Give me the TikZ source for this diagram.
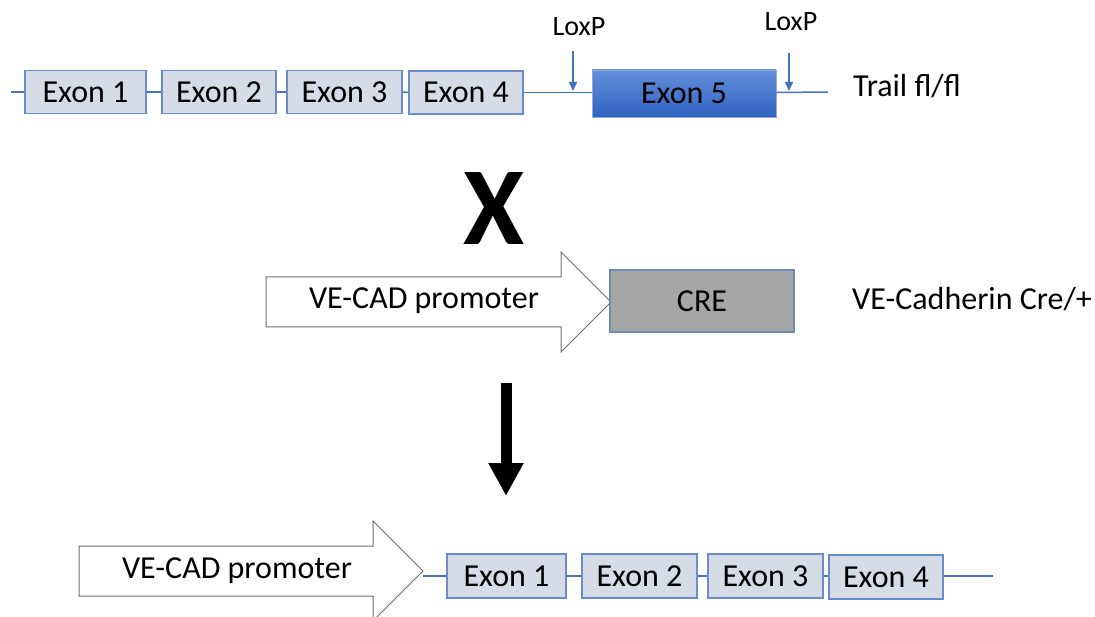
\documentclass[tikz,border=0pt]{standalone}
\usepackage{fontspec}
\setmainfont{Carlito}
\usetikzlibrary{arrows.meta}
\definecolor{exfill}{HTML}{D6DCE5}
\definecolor{exdraw}{HTML}{6A8CCB}
\definecolor{dnaline}{HTML}{4472C4}
\definecolor{exfivetop}{HTML}{648FDA}
\definecolor{exfivebot}{HTML}{3062C0}
\definecolor{exfivedraw}{HTML}{8FAADC}
\definecolor{crefill}{HTML}{A6A6A6}
\definecolor{credraw}{HTML}{6F88B8}
\definecolor{arrowdraw}{HTML}{707070}
\tikzset{
  exon/.style={draw=exdraw, fill=exfill, line width=1.2pt, inner sep=0pt,
    minimum height=43pt, font=\fontsize{32}{38}\selectfont},
  dna/.style={draw=dnaline, line width=1.5pt},
  loxarrow/.style={draw=dnaline, line width=1.3pt, -{Triangle[width=8pt,length=9pt]}},
  lbl/.style={inner sep=0pt, font=\fontsize{32}{38}\selectfont},
  loxlbl/.style={inner sep=0pt, font=\fontsize{28}{33}\selectfont},
  promo/.style={draw=arrowdraw, fill=white, line width=1pt, line join=miter},
}
\begin{document}
\begin{tikzpicture}[x=1pt, y=-1pt]
\useasboundingbox[fill=white] (0,0) rectangle (1095,617);

% ---------- top: Trail fl/fl ----------
\coordinate (L1s) at (11,92);
\coordinate (L1e) at (828,92);
\node[exon, minimum width=121pt] (e1) at (85.5,92) {Exon 1};
\node[exon, minimum width=114pt] (e2) at (219,92) {Exon 2};
\node[exon, minimum width=115pt] (e3) at (344.5,92) {Exon 3};
\node[exon, minimum width=114pt] (e4) at (466,92.5) {Exon 4};
\node[draw=exfivedraw, line width=0.8pt, top color=exfivetop, bottom color=exfivebot,
  inner sep=0pt, minimum width=184pt, minimum height=47pt,
  font=\fontsize{32}{38}\selectfont] (e5) at (684,93.5) {Exon 5};
\draw[dna] (L1s) -- (e1.west);
\draw[dna] (e1.east) -- (e2.west);
\draw[dna] (e2.east) -- (e3.west);
\draw[dna] (e3.east) -- (e4.west);
\draw[dna] (e4.east) -- (e4.east -| e5.west);
\draw[dna] (e4.east -| e5.east) -- (L1e);

\node[loxlbl] (lox1) at (579,27) {LoxP};
\node[loxlbl] (lox2) at (791,22) {LoxP};
\coordinate (a1t) at (573,51);
\coordinate (a1b) at (573,91);
\coordinate (a2t) at (789,53);
\coordinate (a2b) at (789,91);
\draw[loxarrow] (a1t) -- (a1b);
\draw[loxarrow] (a2t) -- (a2b);

\node[lbl, anchor=west] (trail) at (853,86) {Trail fl/fl};

% ---------- cross ----------
\node[inner sep=0pt, font=\fontsize{111}{120}\selectfont\bfseries] (cross) at (494,209) {X};

% ---------- middle: VE-Cadherin Cre ----------
\draw[promo] (266,277) -- (561,277) -- (561,252) -- (611,302) -- (561,352)
  -- (561,327) -- (266,327) -- cycle;
\node[lbl] (promo1) at (424,301) {VE-CAD promoter};
\node[draw=credraw, fill=crefill, line width=1.2pt, inner sep=0pt,
  minimum width=184pt, minimum height=62pt,
  font=\fontsize{32}{38}\selectfont] (cre) at (702,301) {CRE};
\node[lbl, anchor=west] (vecad) at (852,299) {VE-Cadherin Cre/+};

% ---------- big down arrow ----------
\coordinate (d1) at (506,383);
\coordinate (d2) at (506,496);
\draw[line width=11pt, -{Triangle[width=33pt,length=33pt]}] (d1) -- (d2);

% ---------- bottom: recombined ----------
\draw[promo] (79,546) -- (373,546) -- (373,521) -- (423,571) -- (373,621)
  -- (373,596) -- (79,596) -- cycle;
\node[lbl] (promo2) at (237,571) {VE-CAD promoter};
\coordinate (tip2) at (423,576);
\coordinate (L2e) at (993,576);
\node[exon, minimum width=119pt, minimum height=44pt] (b1) at (506.5,576) {Exon 1};
\node[exon, minimum width=115pt, minimum height=44pt] (b2) at (639.5,576) {Exon 2};
\node[exon, minimum width=115pt, minimum height=44pt] (b3) at (765.5,576) {Exon 3};
\node[exon, minimum width=114pt, minimum height=44pt] (b4) at (886,577) {Exon 4};
\draw[dna] (tip2) -- (b1.west);
\draw[dna] (b1.east) -- (b2.west);
\draw[dna] (b2.east) -- (b3.west);
\draw[dna] (b3.east) -- (b3.east -| b4.west);
\draw[dna] (b3.east -| b4.east) -- (L2e);
\end{tikzpicture}
\end{document}
